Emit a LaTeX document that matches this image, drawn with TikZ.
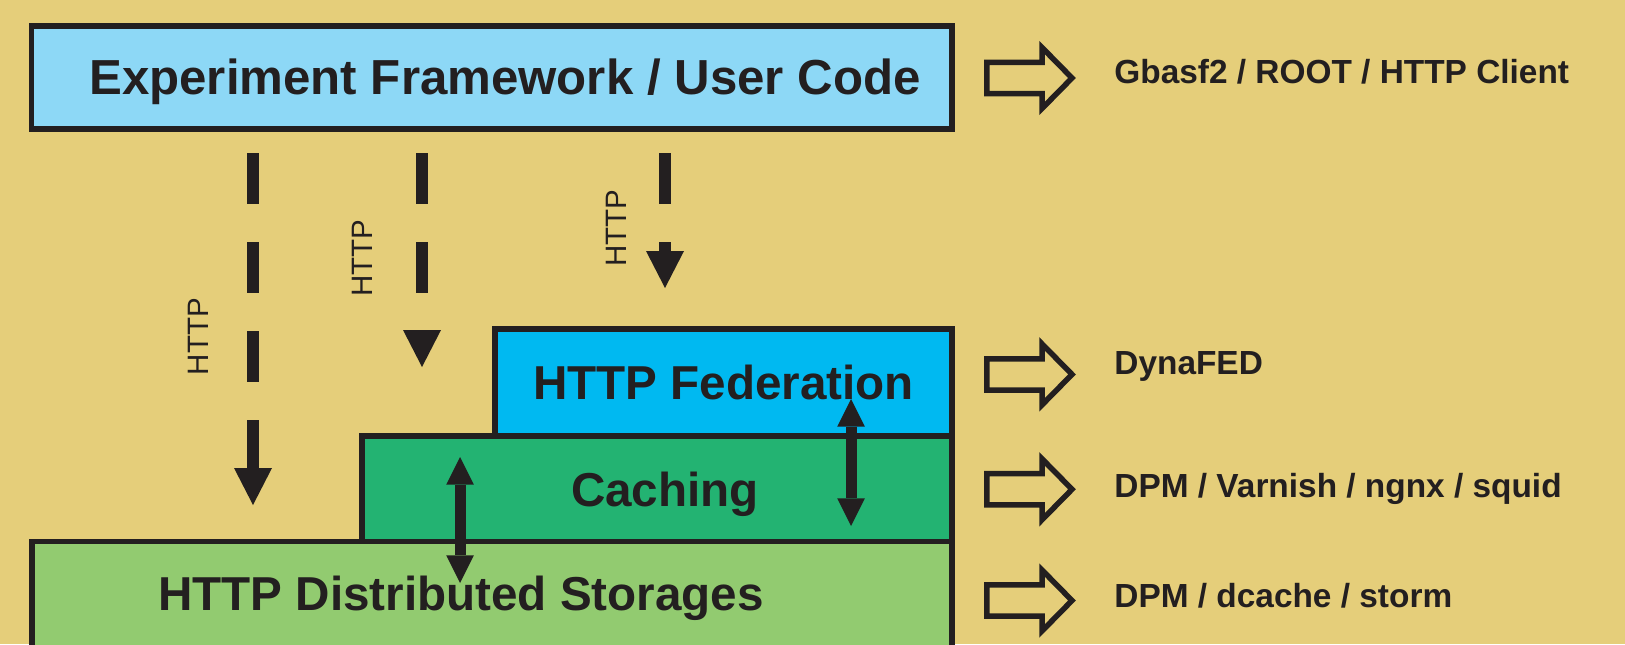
\documentclass[tikz,border=0pt]{standalone}
\usepackage{fontspec}
\setmainfont{Liberation Sans}
\usetikzlibrary{arrows.meta}
\definecolor{bg}{RGB}{229,206,122}
\definecolor{ink}{RGB}{35,31,32}
\definecolor{userblue}{RGB}{141,216,246}
\definecolor{fedblue}{RGB}{0,185,241}
\definecolor{cachegreen}{RGB}{35,179,114}
\definecolor{storegreen}{RGB}{146,203,112}
\tikzset{
  layer/.style={draw=ink, line width=2.8pt, rectangle, inner sep=0pt, outer sep=0pt, anchor=north west},
  biglabel/.style={text=ink, inner sep=0pt, anchor=base},
  sidelabel/.style={text=ink, inner sep=0pt, anchor=base west, font=\fontsize{16.7pt}{20pt}\selectfont\bfseries},
  protolabel/.style={text=ink, inner sep=0pt, rotate=90, font=\fontsize{14.75pt}{18pt}\selectfont},
  httparrow/.style={draw=ink, line width=6.25pt, dash pattern=on 25.5pt off 19pt,
    -{Triangle[length=18.5pt,width=19pt,line width=0pt]}},
  duplex/.style={draw=ink, line width=5.5pt,
    {Triangle[length=13.8pt,width=13.8pt,line width=0pt]}-{Triangle[length=13.8pt,width=13.8pt,line width=0pt]}},
  hollow/.pic={\draw[draw=ink, line width=2.75pt, line join=miter, miter limit=10]
    (-42.75,-15.6) -- (12.5,-15.6) -- (12.5,-30.5) -- (42.5,0) -- (12.5,30.5) -- (12.5,15.6) -- (-42.75,15.6) -- cycle;}
}
\begin{document}
\begin{tikzpicture}[x=0.5pt,y=-0.5pt]
\useasboundingbox (0,0) rectangle (1625,644);
\clip (0,0) rectangle (1625,644);
\fill[bg] (0,0) rectangle (1625,644);

% layered boxes
\node[layer, fill=storegreen, minimum width=460pt, minimum height=64.25pt] (store) at (32,541.5) {};
\node[layer, fill=cachegreen, minimum width=295pt, minimum height=52.75pt] (cache) at (362,436) {};
\node[layer, fill=fedblue, minimum width=228.5pt, minimum height=53.5pt] (fed) at (495,329) {};
\node[layer, fill=userblue, minimum width=460.25pt, minimum height=51.65pt] (user) at (31.5,25.7) {};

% box labels
\node[biglabel, font=\fontsize{24.6pt}{28pt}\selectfont\bfseries] (tuser) at (505,94) {Experiment Framework / User Code};
\node[biglabel, font=\fontsize{23.8pt}{28pt}\selectfont\bfseries] (tfed) at (723.5,399.5) {HTTP Federation};
\node[biglabel, font=\fontsize{23.8pt}{28pt}\selectfont\bfseries] (tcache) at (665,506) {Caching};
\node[biglabel, font=\fontsize{23.8pt}{28pt}\selectfont\bfseries] (tstore) at (461,610) {HTTP Distributed Storages};

% HTTP dashed arrows
\coordinate (d1s) at (253,153); \coordinate (d1e) at (253,505);
\coordinate (d2s) at (422,153); \coordinate (d2e) at (422,367);
\coordinate (d3s) at (665,153); \coordinate (d3e) at (665,288);
\draw[httparrow] (d1s) -- (d1e);
\draw[httparrow] (d2s) -- (d2e);
\draw[httparrow] (d3s) -- (d3e);
\node[protolabel] (h1) at (198,336.5) {HTTP};
\node[protolabel] (h2) at (362,258) {HTTP};
\node[protolabel] (h3) at (616,228) {HTTP};

% two-way arrows between layers
\coordinate (c1a) at (460,457); \coordinate (c1b) at (460,583);
\coordinate (c2a) at (851,399); \coordinate (c2b) at (851,526);
\draw[duplex] (c1a) -- (c1b);
\draw[duplex] (c2a) -- (c2b);

% right column
\pic at (1029.5,78) {hollow};
\pic at (1029.5,374.4) {hollow};
\pic at (1029.5,489.3) {hollow};
\pic at (1029.5,600.5) {hollow};
\node[sidelabel] (s1) at (1114,83) {Gbasf2 / ROOT / HTTP Client};
\node[sidelabel] (s2) at (1114,374) {DynaFED};
\node[sidelabel] (s3) at (1114,497) {DPM / Varnish / ngnx / squid};
\node[sidelabel] (s4) at (1114,607) {DPM / dcache / storm};
\end{tikzpicture}
\end{document}
